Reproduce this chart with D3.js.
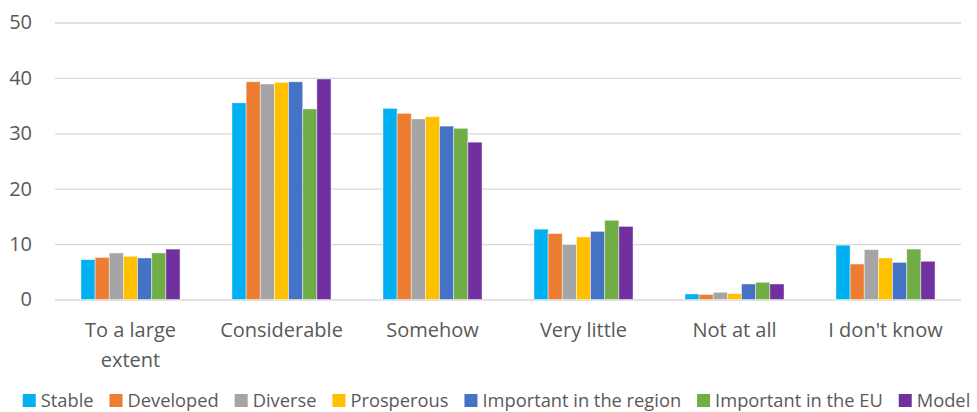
<!DOCTYPE html>
<html>
<head>
<meta charset="utf-8">
<script src="https://cdn.jsdelivr.net/npm/d3@7"></script>
<style>
  html, body { margin: 0; padding: 0; background: #fff; }
  svg { display: block; }
  text { font-family: "Open Sans", sans-serif; fill: #595959; }
</style>
</head>
<body>
<svg id="chart" width="977" height="412"></svg>
<script>
const categories = ["To a large extent", "Considerable", "Somehow", "Very little", "Not at all", "I don't know"];
const seriesNames = ["Stable", "Developed", "Diverse", "Prosperous", "Important in the region", "Important in the EU", "Model"];
const seriesColors = ["#00B0F0", "#ED7D31", "#A5A5A5", "#FFC000", "#4472C4", "#70AD47", "#7030A0"];
const stable      = [7.2, 35.5, 34.5, 12.7, 1.0, 9.8];
const developed   = [7.6, 39.3, 33.6, 11.9, 0.9, 6.4];
const diverse     = [8.4, 38.9, 32.6, 9.9, 1.3, 9.0];
const prosperous  = [7.8, 39.2, 33.0, 11.3, 1.05, 7.5];
const importantRegion = [7.5, 39.3, 31.3, 12.3, 2.8, 6.7];
const importantEU = [8.4, 34.4, 30.9, 14.3, 3.1, 9.1];
const model       = [9.1, 39.8, 28.4, 13.2, 2.8, 6.9];
const yTicks = [0, 10, 20, 30, 40, 50];

const seriesValues = [stable, developed, diverse, prosperous, importantRegion, importantEU, model];

const svg = d3.select("#chart");
const plotLeft = 55, plotRight = 961, plotTop = 22.5, plotBottom = 299.5;

const y = d3.scaleLinear().domain([0, 50]).range([plotBottom, plotTop]);
const x0 = d3.scaleBand().domain(categories).range([plotLeft, plotRight]).paddingInner(0.344).paddingOuter(0.172);
const x1 = d3.scaleBand().domain(seriesNames).range([0, x0.bandwidth()]);

// grid + y axis
const yAxis = d3.axisLeft(y).tickValues(yTicks).tickSizeInner(-(plotRight - plotLeft)).tickSizeOuter(0).tickPadding(23);
const gy = svg.append("g").attr("transform", `translate(${plotLeft},0)`).call(yAxis);
gy.select(".domain").remove();
gy.selectAll(".tick line").attr("stroke", "#d9d9d9").attr("stroke-width", 1.3);
gy.selectAll(".tick text").style("font-size", "20px").style("fill", "#595959").attr("font-family", null);

// bars
const groups = svg.append("g").selectAll("g")
  .data(categories)
  .join("g")
  .attr("transform", d => `translate(${x0(d)},0)`);

groups.selectAll("rect")
  .data((d, i) => seriesNames.map((s, j) => ({ s, v: seriesValues[j][i], c: seriesColors[j] })))
  .join("rect")
  .attr("x", d => x1(d.s))
  .attr("width", x1.bandwidth())
  .attr("y", d => y(d.v))
  .attr("height", d => y(0) - y(d.v))
  .attr("fill", d => d.c)
  .attr("stroke", "#ffffff")
  .attr("stroke-opacity", 0.55)
  .attr("stroke-width", 0.8);

// category labels with wrapping
const xLabels = svg.append("g");
categories.forEach(cat => {
  const cxl = x0(cat) + x0.bandwidth() / 2;
  const t = xLabels.append("text")
    .attr("x", cxl)
    .attr("y", 337)
    .attr("text-anchor", "middle")
    .style("font-size", "20px");
  const words = cat.split(" ");
  let line = [];
  let tspan = t.append("tspan").attr("x", cxl).attr("dy", 0);
  words.forEach(w => {
    line.push(w);
    tspan.text(line.join(" "));
    if (tspan.node().getComputedTextLength() > x0.step() && line.length > 1) {
      line.pop();
      tspan.text(line.join(" "));
      line = [w];
      tspan = t.append("tspan").attr("x", cxl).attr("dy", 30).text(w);
    }
  });
});

// legend
const legend = svg.append("g");
const sq = 13, gapSqText = 5, gapItems = 16;
const items = seriesNames.map((s, i) => {
  const g = legend.append("g");
  g.append("rect").attr("width", sq).attr("height", sq).attr("y", 394).attr("fill", seriesColors[i]);
  const tx = g.append("text").attr("x", sq + gapSqText).attr("y", 407).style("font-size", "18.3px").text(s);
  const w = sq + gapSqText + tx.node().getComputedTextLength();
  return { g, w };
});
const total = d3.sum(items, d => d.w) + gapItems * (items.length - 1);
let lx = (20 + 973) / 2 - total / 2;
items.forEach(it => {
  it.g.attr("transform", `translate(${lx},0)`);
  lx += it.w + gapItems;
});
</script>
</body>
</html>
